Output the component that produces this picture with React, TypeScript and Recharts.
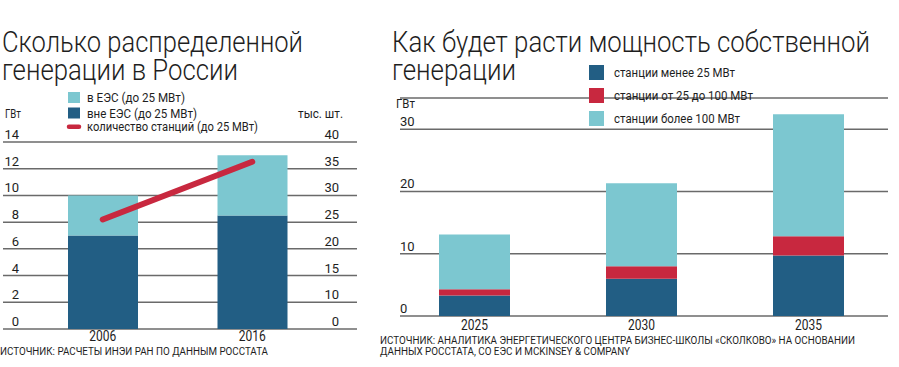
import React from 'react';
import { ComposedChart, BarChart, Bar, Line, XAxis, YAxis, CartesianGrid } from 'recharts';

// left panel: distributed generation in Russia
const leftYears = ['2006', '2016'];
const inUes = [3, 4.5];
const outsideUes = [7, 8.5];
const stationCount = [25.5, 36.3];
const leftGwTicks = [0, 2, 4, 6, 8, 10, 12, 14];
// the right axis is broken: its bottom tick reads 0, the rest run 10..40
const leftCountTicks = [5, 10, 15, 20, 25, 30, 35, 40];

// right panel: forecast of own generation
const rightYears = ['2025', '2030', '2035'];
const under25 = [3.3, 6.0, 9.7];
const from25to100 = [1.0, 2.0, 3.1];
const over100 = [8.8, 13.3, 19.6];
const rightTicks = [0, 10, 20, 30];

const DARK = '#225e84';
const RED = '#c8283f';
const LIGHT = '#7cc7d0';
const GRID = '#6a6a6a';
const TEXT = '#1e1e1e';
const FONT = 'Roboto, "Noto Sans", sans-serif';

const leftData = leftYears.map((year, i) => ({
  year,
  outside: outsideUes[i],
  inside: inUes[i],
  count: stationCount[i],
}));

const rightData = rightYears.map((year, i) => ({
  year,
  small: under25[i],
  mid: from25to100[i],
  big: over100[i],
}));

const LeftGwTick = ({ y, payload }: any) => (
  <text x={19} y={y - 3} textAnchor="end" fontSize={13} fill={TEXT} fontFamily={FONT}>
    {payload.value}
  </text>
);

const LeftCountTick = ({ y, payload }: any) => (
  <text x={339} y={y - 3} textAnchor="end" fontSize={13} fill={TEXT} fontFamily={FONT}>
    {payload.value === 5 ? 0 : payload.value}
  </text>
);

const RightGwTick = ({ y, payload }: any) => (
  <text x={20} y={y - 3} textAnchor="start" fontSize={13} fill={TEXT} fontFamily={FONT}>
    {payload.value}
  </text>
);

const yearTick = (baseline: number) => ({ x, payload }: any) => (
  <text x={x} y={baseline} textAnchor="middle" fontSize={14} fill={TEXT} fontFamily={FONT} textLength={27} lengthAdjust="spacingAndGlyphs">
    {payload.value}
  </text>
);

const Txt = ({ x, y, size, len, weight = 400, children }: any) => (
  <text x={x} y={y} fontSize={size} fontWeight={weight} fill={TEXT} fontFamily={FONT} textLength={len} lengthAdjust="spacingAndGlyphs">
    {children}
  </text>
);

export default function App() {
  return (
    <div style={{ position: 'absolute', left: 0, top: 0, width: 899, height: 367, background: '#fff', overflow: 'hidden' }}>
      <div style={{ position: 'absolute', left: 0, top: 0 }}>
        <ComposedChart width={360} height={367} data={leftData} margin={{ top: 142, right: 2, bottom: 18, left: 2 }}>
          <CartesianGrid yAxisId="gw" vertical={false} stroke={GRID} strokeWidth={1.5} />
          <XAxis dataKey="year" height={20} axisLine={false} tickLine={false} padding={{ left: 25, right: 30 }} tick={yearTick(341)} />
          <YAxis yAxisId="gw" width={1} domain={[0, 14]} ticks={leftGwTicks} interval={0} axisLine={false} tickLine={false} tick={LeftGwTick} />
          <YAxis yAxisId="count" orientation="right" width={1} domain={[5, 40]} ticks={leftCountTicks} interval={0} axisLine={false} tickLine={false} tick={LeftCountTick} />
          <Bar yAxisId="gw" dataKey="outside" stackId="a" fill={DARK} barSize={70} isAnimationActive={false} />
          <Bar yAxisId="gw" dataKey="inside" stackId="a" fill={LIGHT} barSize={70} isAnimationActive={false} />
          <Line yAxisId="count" dataKey="count" stroke={RED} strokeWidth={6} strokeLinecap="round" dot={false} activeDot={false} isAnimationActive={false} />
        </ComposedChart>
      </div>

      <div style={{ position: 'absolute', left: 380, top: 0 }}>
        <BarChart width={519} height={367} data={rightData} margin={{ top: 98, right: 11, bottom: 31, left: 19 }}>
          <CartesianGrid vertical={false} stroke={GRID} strokeWidth={1.5} />
          <XAxis dataKey="year" height={20} axisLine={false} tickLine={false} padding={{ left: -9, right: -4 }} tick={yearTick(330)} />
          <YAxis width={1} domain={[0, 35]} ticks={rightTicks} interval={0} axisLine={false} tickLine={false} tick={RightGwTick} />
          <Bar dataKey="small" stackId="a" fill={DARK} barSize={71} isAnimationActive={false} />
          <Bar dataKey="mid" stackId="a" fill={RED} barSize={71} isAnimationActive={false} />
          <Bar dataKey="big" stackId="a" fill={LIGHT} barSize={71} isAnimationActive={false} />
        </BarChart>
      </div>

      <svg width={899} height={367} style={{ position: 'absolute', left: 0, top: 0, pointerEvents: 'none' }}>
        {/* titles */}
        <Txt x={2} y={52} size={29} len={301} weight={300}>Сколько распределенной</Txt>
        <Txt x={2} y={80} size={29} len={236} weight={300}>генерации в России</Txt>
        <Txt x={392} y={52} size={29} len={478} weight={300}>Как будет расти мощность собственной</Txt>
        <Txt x={392} y={80} size={29} len={124} weight={300}>генерации</Txt>

        {/* left legend */}
        <rect x={68} y={92} width={12} height={11} fill={LIGHT} />
        <rect x={68} y={107.5} width={12} height={11} fill={DARK} />
        <line x1={69} y1={126.7} x2={79} y2={126.7} stroke={RED} strokeWidth={4.5} strokeLinecap="round" />
        <Txt x={87} y={102} size={12.5} len={98}>в ЕЭС (до 25 МВт)</Txt>
        <Txt x={87} y={117.5} size={12.5} len={110}>вне ЕЭС (до 25 МВт)</Txt>
        <Txt x={87} y={131} size={12.5} len={171}>количество станций (до 25 МВт)</Txt>

        {/* units */}
        <Txt x={5} y={118} size={12.5} len={16}>ГВт</Txt>
        <Txt x={298} y={118} size={12.5} len={45}>тыс. шт.</Txt>
        <Txt x={396} y={108} size={12.5} len={19}>ГВт</Txt>

        {/* right legend */}
        <rect x={589} y={65} width={15} height={15} fill={DARK} />
        <rect x={589} y={88} width={15} height={15} fill={RED} />
        <rect x={589} y={111} width={15} height={15} fill={LIGHT} />
        <Txt x={614} y={77} size={12.5} len={121}>станции менее 25 МВт</Txt>
        <Txt x={614} y={100} size={12.5} len={139}>станции от 25 до 100 МВт</Txt>
        <Txt x={614} y={123} size={12.5} len={126}>станции более 100 МВт</Txt>

        {/* sources */}
        <Txt x={0} y={355} size={10} len={268}>ИСТОЧНИК: РАСЧЕТЫ ИНЭИ РАН ПО ДАННЫМ РОССТАТА</Txt>
        <Txt x={380} y={344} size={10} len={475}>ИСТОЧНИК: АНАЛИТИКА ЭНЕРГЕТИЧЕСКОГО ЦЕНТРА БИЗНЕС-ШКОЛЫ «СКОЛКОВО» НА ОСНОВАНИИ</Txt>
        <Txt x={380} y={355} size={10} len={250}>ДАННЫХ РОССТАТА, СО ЕЭС И MCKINSEY &amp; COMPANY</Txt>
      </svg>
    </div>
  );
}
